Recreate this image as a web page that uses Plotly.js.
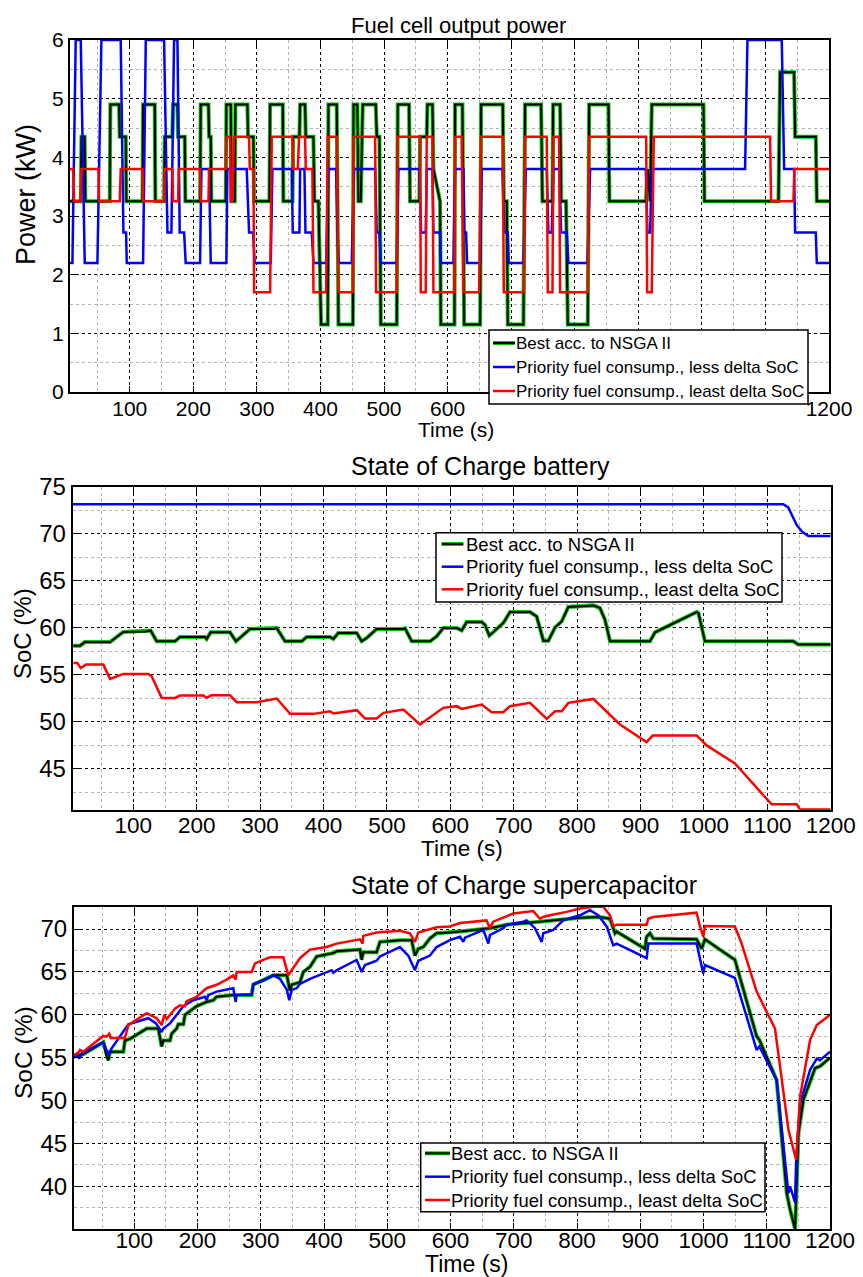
<!DOCTYPE html>
<html>
<head>
<meta charset="utf-8">
<script src="https://cdn.plot.ly/plotly-3.0.1.min.js"></script>
<style>html,body{margin:0;padding:0;background:#fff;}#chart{width:863px;height:1277px;}</style>
</head>
<body>
<div id="chart"></div>
<script>
// ---------- Panel 1: Fuel cell output power (kW) ----------
const fcTimeNsga = [6,22.9,24,29,30.2,68.5,69.5,83.2,84.2,93.7,94.7,120,121,139.3,140.3,154,155,167,168,175,176,186.5,187.5,210.6,211.6,223.8,224.8,227.4,228.4,251,252,258.9,260,265.2,266.2,285.1,286.1,294.5,295.5,319.7,320.8,340.7,341.7,355.9,357,366.9,368,375.8,376.9,388.9,390.5,396.8,401,411.5,412.5,425.6,428.3,451,452,458.1,459.7,463.4,466.5,487,488.6,492.8,494.9,520,521.6,539.4,540.9,555.7,556.7,567.2,568.3,576.2,577.7,588.2,589.3,610.8,611.8,623.3,626,651.2,652.7,686.8,688.4,693.1,694.7,719.3,721.9,747.1,749.2,765,766,777,778.6,786.4,789.1,820.5,822.7,853.1,854.6,911.8,914.9,918.6,921.2,1002.5,1004.1,1120.5,1123.1,1145.1,1146.7,1179.2,1180.8,1200];
const fcPowerNsga = [3.25,3.25,4.35,4.35,3.25,3.25,4.9,4.9,4.35,4.35,3.25,3.25,4.9,4.9,3.25,3.25,4.35,4.35,4.9,4.9,4.35,4.35,3.25,3.25,4.9,4.9,4.35,4.35,3.25,3.25,4.9,4.9,3.25,3.25,4.9,4.9,4.35,4.35,3.25,3.25,4.9,4.9,3.25,3.25,4.35,4.35,4.9,4.9,4.35,4.35,3.25,3.25,1.15,1.15,4.9,4.9,1.15,1.15,4.9,4.9,3.25,3.25,4.9,4.9,4.35,4.35,1.15,1.15,4.9,4.9,3.25,3.25,4.35,4.35,4.9,4.9,3.8,3.25,1.15,1.15,4.9,4.9,1.15,1.15,4.9,4.9,3.25,3.25,1.15,1.15,4.9,4.9,3.25,3.25,4.9,4.9,3.25,3.25,1.15,1.15,4.9,4.9,3.25,3.25,3.8,3.25,4.9,4.9,3.25,3.25,5.45,5.45,4.35,4.35,3.25,3.25];

const fcTimeLess = [6,9.8,15,22.9,29.2,49.1,55.4,85.8,90,94.2,95.3,121,125.2,154,159.3,165.5,169.7,175,178.6,185.5,188,210.6,212.7,224.8,227.4,252,253.6,284,287.7,294,296.6,321.8,324.4,354.9,356.4,366.9,368,374.8,376.4,386.3,389,408.9,412.5,424.6,426.7,428.8,449.2,452.9,486,488.6,492.8,494.9,520,522.6,555.7,558.3,565.6,567.2,576.2,577.7,588.2,589.3,609.2,611.8,624.9,626.5,629.1,630.7,651.2,653.7,686.3,689.4,694.7,696.2,719.3,723,756,758.6,763.9,766.5,775.9,778.6,787.4,790.1,820,824.2,911.8,914.4,918.6,921.2,1068,1071.7,1125.7,1129.4,1145.1,1146.7,1179.2,1180.8,1200];
const fcPowerLess = [2.2,2.2,6,6,2.2,2.2,6,6,2.72,2.72,2.2,2.2,6,6,2.72,2.72,6,6,2.72,2.72,2.2,2.2,3.8,3.8,2.2,2.2,3.8,3.8,2.72,2.72,2.2,2.2,3.8,3.8,2.72,2.72,3.8,3.8,2.72,2.72,2.2,2.2,3.8,3.8,2.72,2.2,2.2,3.8,3.8,2.72,2.72,2.2,2.2,3.8,3.8,2.72,2.72,3.8,3.8,2.72,2.72,2.2,2.2,3.8,3.8,2.72,2.72,2.2,2.2,3.8,3.8,2.72,2.72,2.2,2.2,3.8,3.8,2.72,2.72,3.8,3.8,2.72,2.72,2.2,2.2,3.8,3.8,2.72,2.72,3.8,3.8,6,6,3.8,3.8,2.72,2.72,2.2,2.2];

const fcTimeLeast = [6,10.9,12.4,22.9,24,50.7,51.8,84.3,85.8,120,121,154,155,167.1,168.2,176,177.1,210.6,211.7,223.8,224.8,251,252,257.9,258.9,261.5,264.1,287.7,288.8,294.6,295.6,320.8,323.4,355.9,357.5,364.3,366.4,375.8,376.9,387.3,389,408.9,411.5,425.6,428.3,451,452,486,487.5,520,521.6,556.7,557.8,565.6,567.2,576.2,577.7,610.8,611.8,622.3,624.9,649.6,652.7,686.8,688.4,720.3,721.9,756,757.6,765,766.5,775.4,777,820.5,822.7,912.4,913.9,921.2,924.3,1107.3,1108.9,1144,1145.6,1200];
const fcPowerLeast = [3.8,3.8,3.25,3.25,3.8,3.8,3.25,3.25,3.8,3.8,3.25,3.25,3.8,3.8,3.25,3.25,3.8,3.8,3.25,3.25,3.8,3.8,4.35,4.35,3.25,3.25,4.35,4.35,3.8,3.8,1.7,1.7,4.35,4.35,3.8,3.8,4.35,4.35,3.8,3.8,1.7,1.7,4.35,4.35,1.7,1.7,4.35,4.35,1.7,1.7,4.35,4.35,1.7,1.7,4.35,4.35,1.7,1.7,4.35,4.35,1.7,1.7,4.35,4.35,1.7,1.7,4.35,4.35,1.7,1.7,4.35,4.35,1.7,1.7,4.35,4.35,1.7,1.7,4.35,4.35,3.25,3.25,3.8,3.8];

// ---------- Panel 2: State of Charge battery (%) ----------
const batTimeNsga = [5.4,16,23.8,63.3,84.2,121,127.3,136.9,165.8,173.7,213.1,215.7,222,252.5,262,284.1,321,326.2,339.3,365.6,373.5,410.3,415.5,423.4,452.4,460.2,468.1,483.9,526,528.6,539.1,568,578.5,588.9,610,618,625.8,649.5,654.7,661.6,683.6,694.2,725.7,736.2,746.8,754.7,765.2,775.7,786.2,825.6,836.1,844,851.9,915,922.9,988.6,991.3,1001.7,1141.1,1149,1200];
const batSocNsga = [58.08,58.08,58.47,58.47,59.54,59.6,59.7,58.55,58.55,59.0,59.0,58.8,59.5,59.5,58.55,59.86,59.86,59.96,58.55,58.55,59.0,59.0,58.8,59.43,59.43,58.55,58.9,59.86,59.86,59.93,58.55,58.55,59.08,59.96,59.96,59.7,60.6,60.6,60.3,59.15,60.5,61.66,61.66,61.2,58.62,58.62,60.03,60.67,62.2,62.37,62.08,60.84,58.55,58.55,59.5,61.66,61.56,58.55,58.55,58.2,58.2];

const batTimeLess = [4.4,1125.3,1133,1140,1146.3,1155,1164.7,1200];
const batSocLess = [73.13,73.13,72.8,71.9,70.93,70.2,69.76,69.76];

const batTimeLeast = [5.5,11.7,17,25.4,52.7,63.3,84.2,123.7,129,144.7,165.8,173.7,210.5,215.7,223.6,252.5,263,294.5,326.2,347.3,384,410.3,415.5,452.4,465.5,483.9,494.4,526,552.2,568,588.9,610,618,649.5,665.2,683.6,694.2,725.7,752,765.2,775.7,786.2,825.6,867.7,909.7,919.2,988.6,1004.3,1049,1106.8,1146.3,1151.6,1200];
const batSocLeast = [56.25,56.25,55.7,56.07,56.07,54.55,55.08,55.08,54.83,52.53,52.53,52.78,52.78,52.53,52.82,52.82,52.07,52.07,52.46,50.83,50.83,51.11,50.87,51.22,50.34,50.34,50.94,51.29,49.7,50.48,51.47,51.65,51.36,51.82,51.0,51.0,51.65,52.0,50.3,51.11,51.11,52.0,52.42,49.7,47.82,48.53,48.53,47.47,45.56,41.2,41.2,40.65,40.65];

// ---------- Panel 3: State of Charge supercapacitor (%) ----------
const scTimeNsga = [4.6,19.3,51,56.2,58.9,61.5,82.6,85.2,93.1,119.5,137.9,143.2,145.8,156.4,159,167,169.5,177.5,180.1,198.5,214.3,224.9,230.1,256.5,285.5,288.1,319.8,341.2,346,348.7,361.9,367.3,377.7,388.3,414.6,419.9,456.8,459.4,462,483.1,488.4,520,538.4,543.7,549,556.9,567.4,577.9,599,614.9,662.3,688.7,720.3,746.6,762.4,804.6,836.2,852.1,860,862.6,907.4,910,915.3,920.6,989.1,997,1002.3,1049.7,1084,1088.2,1115.6,1131.6,1136.9,1144.8,1150.1,1158,1176.5,1184.3,1200];
const scSocNsga = [55.1,55.4,56.8,55.1,54.7,55.7,55.7,57.0,57.2,58.4,58.4,56.3,57.0,57.0,57.8,58.4,58.9,58.9,60.0,61.0,61.5,61.7,62.1,62.3,62.3,63.5,64.6,64.6,62.8,63.5,63.8,65.0,65.6,66.8,67.2,67.4,67.6,66.4,67.3,67.3,68.5,68.7,68.7,66.9,67.7,67.9,68.9,69.5,69.6,69.7,70.1,70.5,70.7,70.9,71.0,71.3,71.4,71.2,69.5,69.7,67.7,69.1,69.5,68.9,68.8,67.7,68.8,66.4,57.5,57.1,52.4,39.2,37.3,35.0,46.2,50.1,53.8,54.0,55.0];

const scTimeLess = [4.6,8.8,13,16.7,51,58.9,64.1,85.2,90.5,122.1,134.2,143.2,145.8,156.4,172.2,177.5,193.2,211.7,214.3,217,230.1,256.5,260.2,261.8,285.5,288.1,303.9,319.8,330.3,341.2,345,348.7,356.6,361.9,377.7,412,414.6,419.9,451.5,459.4,464.7,483.1,488.4,520,533.2,543.7,549,567.4,577.9,599,614.9,620.2,622.9,651.9,659.8,662.3,683.4,688.7,715.1,720.3,733.5,744.1,746.6,762.4,778.2,804.6,820.4,833.6,846.8,857.3,862.6,910,912.7,920.6,989.1,999.6,1002.3,1049.7,1084,1088.2,1115.6,1134.3,1136.9,1144.8,1146.4,1152.7,1168.6,1179.1,1184.3,1200];
const scSocLess = [55.1,55.4,54.9,55.5,56.8,55.3,56.1,58.4,58.9,59.6,59.0,58.0,58.4,59.0,60.4,61.0,61.7,62.1,61.7,62.3,62.7,63.1,61.5,62.3,62.4,63.6,64.0,64.6,64.2,62.9,61.7,62.9,63.1,63.6,64.2,65.2,64.9,65.2,66.4,65.0,65.8,66.3,66.8,67.9,66.9,65.2,66.3,66.9,67.9,68.7,69.1,68.5,69.0,69.9,68.3,69.3,70.1,70.5,70.85,71.0,70.1,68.5,69.5,69.9,71.0,71.6,72.2,71.6,70.3,68.1,68.3,66.6,68.3,68.3,68.3,64.8,65.8,64.3,55.9,56.3,52.4,39.2,40.0,38.1,42.7,49.7,53.6,54.9,54.7,55.7];

const scTimeLeast = [4.6,11.4,14,19.3,50.9,56.2,60.4,62.6,85.2,90.5,119.5,135.3,143.2,147.4,151.1,156.4,164.3,172.2,180.1,182.7,198.5,214.3,230.1,245.9,256.5,260.2,261.8,285.5,290.8,303.9,314.5,335.6,343.5,348.7,361.9,377.7,404,419.9,427.8,456.8,461,462,483.1,520,535.8,543.7,549,577.9,599,614.9,656.9,662.3,667.5,699.2,730.8,741.3,746.6,757.1,783.5,804.6,825.7,841.5,852.1,857.3,862.6,910,912.7,920.6,989.1,994.4,999.6,1002.3,1049.7,1060.3,1084,1086.6,1113,1134.3,1146.4,1152.7,1168.6,1179.1,1200];
const scSocLeast = [55.3,55.6,55.9,55.7,57.54,57.46,57.8,57.3,57.3,58.8,60.2,59.6,58.8,60.0,59.5,60.0,60.7,61.1,61.0,61.6,62.1,63.1,63.5,64.1,64.6,64.1,65.0,65.0,66.0,66.4,66.7,66.7,64.6,65.2,66.6,67.6,67.9,68.3,68.4,68.8,68.3,69.2,69.6,69.8,69.5,68.5,69.6,70.2,70.3,70.7,71.0,70.1,70.85,71.8,72.1,71.2,71.4,71.6,72.0,72.4,72.6,72.6,71.6,70.3,70.5,70.5,71.2,71.4,71.9,70.3,69.1,70.35,70.3,68.3,62.7,62.3,58.4,46.6,43.1,50.5,57.1,58.8,60.0];

const legendNames = ['Best acc. to NSGA II', 'Priority fuel consump., less delta SoC', 'Priority fuel consump., least delta SoC'];
const xTickVals = [100,200,300,400,500,600,700,800,900,1000,1100,1200];
const xTickTextPower = ['100','200','300','400','500','600','','','','','','1200'];
const yTickValsSc = [40,45,50,55,60,65,70];

const FONT = 'Liberation Sans, Arial, Helvetica, sans-serif';
const BLUE = '#0000ff', RED = '#ff0000', GREEN = '#00c800', BLACK = '#000000';

function panelTraces(xa, ya, tN, vN, tB, vB, tR, vR) {
  return [
    {x: tN, y: vN, xaxis: xa, yaxis: ya, mode: 'lines', line: {color: GREEN, width: 4}, showlegend: false, hoverinfo: 'skip'},
    {x: tN, y: vN, xaxis: xa, yaxis: ya, mode: 'lines', line: {color: BLACK, width: 2}, name: legendNames[0], showlegend: false},
    {x: tB, y: vB, xaxis: xa, yaxis: ya, mode: 'lines', line: {color: BLUE, width: 2.5}, name: legendNames[1], showlegend: false},
    {x: tR, y: vR, xaxis: xa, yaxis: ya, mode: 'lines', line: {color: RED, width: 2.5}, name: legendNames[2], showlegend: false}
  ];
}

const data = [].concat(
  panelTraces('x', 'y', fcTimeNsga, fcPowerNsga, fcTimeLess, fcPowerLess, fcTimeLeast, fcPowerLeast),
  panelTraces('x2', 'y2', batTimeNsga, batSocNsga, batTimeLess, batSocLess, batTimeLeast, batSocLeast),
  panelTraces('x3', 'y3', scTimeNsga, scSocNsga, scTimeLess, scSocLess, scTimeLeast, scSocLeast)
);

function xAxis(dom, anchor, rng, fs, standoff, ticktext) {
  return {
    domain: dom, anchor: anchor, range: rng,
    tickmode: 'array', tickvals: xTickVals, ticktext: ticktext || xTickVals.map(String),
    showline: true, linecolor: BLACK, linewidth: 2, mirror: 'ticks',
    ticks: 'inside', ticklen: 6, tickwidth: 1, tickcolor: BLACK, ticklabelstandoff: standoff,
    showgrid: true, gridcolor: BLACK, griddash: 'dot', gridwidth: 1,
    minor: {tickmode: 'linear', tick0: 0, dtick: 50, showgrid: true, gridcolor: '#b4b4b4', griddash: 'dot', gridwidth: 1, ticks: ''},
    zeroline: false, tickfont: {size: fs, color: BLACK, family: FONT}, fixedrange: true
  };
}
function yAxis(dom, anchor, rng, dt, mdt, fs, tickvals) {
  const a = {
    domain: dom, anchor: anchor, range: rng, tickmode: 'linear', tick0: 0, dtick: dt,
    showline: true, linecolor: BLACK, linewidth: 2, mirror: 'ticks',
    ticks: 'inside', ticklen: 6, tickwidth: 1, tickcolor: BLACK,
    showgrid: true, gridcolor: BLACK, griddash: 'dot', gridwidth: 1,
    minor: {tickmode: 'linear', tick0: 0, dtick: mdt, showgrid: true, gridcolor: '#b4b4b4', griddash: 'dot', gridwidth: 1, ticks: ''},
    zeroline: false, tickfont: {size: fs, color: BLACK, family: FONT}, fixedrange: true
  };
  if (tickvals) { a.tickmode = 'array'; a.tickvals = tickvals; delete a.dtick; delete a.tick0; }
  return a;
}

const W = 863, H = 1277;
function px(v) { return v / W; }
function py(v) { return 1 - v / H; }
function ann(text, x, y, size, angle, anchor) {
  return {text: text, xref: 'paper', yref: 'paper', x: px(x), y: py(y), xanchor: anchor || 'center', yanchor: 'middle',
    showarrow: false, textangle: angle || 0, font: {size: size, color: BLACK, family: FONT}};
}

// Manual legend boxes (box, line sample and label positions in page pixels)
const shapes = [];
const annotations = [
  ann('Fuel cell output power', 458.5, 25, 22),
  ann('State of Charge battery', 480, 466, 25),
  ann('State of Charge supercapacitor', 523.5, 885, 25),
  ann('Power (kW)', 26, 195, 27, -90),
  ann('SoC (%)', 23, 634, 24, -90),
  ann('SoC (%)', 23, 1053, 24.5, -90),
  ann('Time (s)', 456, 429, 21),
  ann('Time (s)', 462, 848, 22.5),
  ann('Time (s)', 466, 1264, 23)
];
function legendBox(x0, x1, y0, y1, rows, s0, s1, tx, fs) {
  shapes.push({type: 'rect', xref: 'paper', yref: 'paper', x0: px(x0), x1: px(x1), y0: py(y1), y1: py(y0),
    fillcolor: '#ffffff', line: {color: BLACK, width: 1.5}, layer: 'above'});
  const cols = [BLACK, BLUE, RED];
  rows.forEach((ry, i) => {
    if (i === 0) {
      shapes.push({type: 'line', xref: 'paper', yref: 'paper', x0: px(s0), x1: px(s1), y0: py(ry), y1: py(ry),
        line: {color: GREEN, width: 4}, layer: 'above'});
    }
    shapes.push({type: 'line', xref: 'paper', yref: 'paper', x0: px(s0), x1: px(s1), y0: py(ry), y1: py(ry),
      line: {color: cols[i], width: i === 0 ? 2 : 2.5}, layer: 'above'});
    annotations.push(ann(legendNames[i], tx, ry, fs, 0, 'left'));
  });
}
legendBox(489, 808, 330, 404, [343, 367, 391], 493, 515, 514, 17);
legendBox(436, 782, 532.7, 602, [544, 566.7, 589.3], 441.7, 463.3, 463.5, 18.5);
legendBox(420.7, 765, 1143, 1211.7, [1153.3, 1176.7, 1200], 425, 450, 448.5, 18.4);

const layout = {
  width: W, height: H, margin: {l: 0, r: 0, t: 0, b: 0},
  paper_bgcolor: '#ffffff', plot_bgcolor: '#ffffff',
  font: {family: FONT, color: BLACK},
  showlegend: false,
  xaxis: xAxis([px(70), px(829)], 'y', [6, 1200], 21, -3, xTickTextPower),
  yaxis: yAxis([py(392), py(40)], 'x', [0, 6], 1, 0.5, 21),
  xaxis2: xAxis([px(72.7), px(830.7)], 'y2', [4.4, 1200], 22.5, -6),
  yaxis2: yAxis([py(810), py(486.7)], 'x2', [40.6, 75], 5, 2.5, 24),
  xaxis3: xAxis([px(74), px(830)], 'y3', [4.6, 1200], 22.5, -10),
  yaxis3: yAxis([py(1229.3), py(906.7)], 'x3', [35, 72.6], 5, 2.5, 24, yTickValsSc),
  shapes: shapes,
  annotations: annotations
};

Plotly.newPlot('chart', data, layout, {staticPlot: true, displayModeBar: false});
</script>
</body>
</html>
